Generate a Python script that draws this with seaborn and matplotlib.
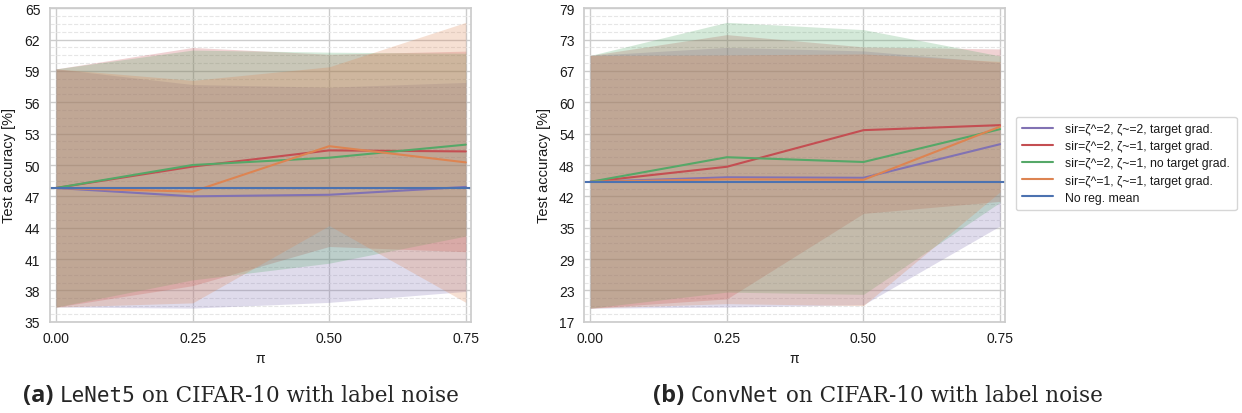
import numpy as np
import pandas as pd
import matplotlib
matplotlib.use("Agg")
import matplotlib.pyplot as plt
import seaborn as sns
from matplotlib.ticker import AutoMinorLocator, FixedLocator
from matplotlib.offsetbox import TextArea, HPacker, AnchoredOffsetbox
from matplotlib.lines import Line2D

# ---------------- data ----------------
pi_vals = [0.00, 0.25, 0.50, 0.75]
series_names = [
    "sir=ζ^=2, ζ~=2, target grad.",
    "sir=ζ^=2, ζ~=1, target grad.",
    "sir=ζ^=2, ζ~=1, no target grad.",
    "sir=ζ^=1, ζ~=1, target grad.",
]
noreg_name = "No reg. mean"

# LeNet5 (a)
lenet_mean_s1 = [47.8, 47.0, 47.15, 47.9]
lenet_std_s1 = [11.4, 10.7, 10.3, 10.0]
lenet_mean_s2 = [47.8, 49.85, 51.4, 51.3]
lenet_std_s2 = [11.4, 11.4, 9.2, 9.6]
lenet_mean_s3 = [47.8, 50.0, 50.7, 51.95]
lenet_std_s3 = [11.4, 11.0, 10.1, 8.75]
lenet_mean_s4 = [47.8, 47.45, 51.8, 50.25]
lenet_std_s4 = [11.4, 10.65, 7.6, 13.4]
lenet_noreg = 47.8
lenet_ylim = (35.0, 65.0)
lenet_yticklabels = ["35", "38", "41", "44", "47", "50", "53", "56", "59", "62", "65"]

# ConvNet (b)
conv_mean_s1 = [44.5, 45.4, 45.3, 52.0]
conv_std_s1 = [25.2, 25.9, 25.3, 16.3]
conv_mean_s2 = [44.5, 47.5, 54.8, 55.8]
conv_std_s2 = [25.2, 26.35, 16.6, 15.2]
conv_mean_s3 = [44.5, 49.4, 48.45, 55.0]
conv_std_s3 = [25.2, 26.9, 26.4, 14.6]
conv_mean_s4 = [44.5, 45.0, 44.9, 55.5]
conv_std_s4 = [25.2, 24.8, 25.1, 13.0]
conv_noreg = 44.5
conv_ylim = (16.6, 79.1)
conv_yticklabels = ["17", "23", "29", "35", "42", "48", "54", "60", "67", "73", "79"]

xticklabels = ["0.00", "0.25", "0.50", "0.75"]
xlabel = "π"
ylabel = "Test accuracy [%]"
caption_a = ("(a) ", "LeNet5", " on CIFAR-10 with label noise")
caption_b = ("(b) ", "ConvNet", " on CIFAR-10 with label noise")

# ---------------- style ----------------
sns.set_theme(style="whitegrid")
plt.rcParams["font.family"] = ["Liberation Sans", "DejaVu Sans"]
deep = sns.color_palette("deep")
colors = [deep[4], deep[3], deep[2], deep[1]]
noreg_color = deep[0]

fig = plt.figure(figsize=(12.42, 4.14), dpi=100)
ax_a = fig.add_axes([50 / 1242, 1 - 322.7 / 414, 420.7 / 1242, 313.4 / 414])
ax_b = fig.add_axes([584.3 / 1242, 1 - 322.7 / 414, 420.7 / 1242, 313.4 / 414])

FS = 10


def draw(ax, means, stds, noreg, ylim, yticklabels):
    frames = []
    for name, m in zip(series_names, means):
        frames.append(pd.DataFrame({"pi": pi_vals, "acc": m, "series": name}))
    df = pd.concat(frames, ignore_index=True)
    for name, m, s, c in zip(series_names, means, stds, colors):
        m = np.asarray(m)
        s = np.asarray(s)
        ax.fill_between(pi_vals, m - s, m + s, color=c, alpha=0.25, linewidth=0)
    sns.lineplot(data=df, x="pi", y="acc", hue="series", hue_order=series_names,
                 palette=colors, ax=ax, linewidth=1.5, legend=False)
    ax.axhline(noreg, color=noreg_color, linewidth=1.5)
    ax.set_xlim(-0.011, 0.759)
    ax.set_ylim(*ylim)
    ax.set_xticks(pi_vals)
    ax.set_xticklabels(xticklabels, fontsize=FS)
    yt = np.linspace(ylim[0], ylim[1], len(yticklabels))
    ax.yaxis.set_major_locator(FixedLocator(yt))
    ax.set_yticklabels(yticklabels, fontsize=FS)
    ax.yaxis.set_minor_locator(AutoMinorLocator(4))
    ax.grid(which="major", color="0.8", linewidth=1.0)
    ax.grid(which="minor", axis="y", color="0.9", linestyle="--", linewidth=0.8)
    ax.grid(which="minor", axis="x", visible=False)
    ax.tick_params(axis="both", which="major", pad=7, length=0, labelcolor="0.1")
    ax.tick_params(axis="both", which="minor", length=0)
    ax.set_xlabel(xlabel, fontsize=FS, color="0.1")
    ax.set_ylabel(ylabel, fontsize=FS + 0.5, labelpad=6, color="0.1")
    for sp in ax.spines.values():
        sp.set_color("0.8")
        sp.set_linewidth(1.25)


draw(ax_a, [lenet_mean_s1, lenet_mean_s2, lenet_mean_s3, lenet_mean_s4],
     [lenet_std_s1, lenet_std_s2, lenet_std_s3, lenet_std_s4],
     lenet_noreg, lenet_ylim, lenet_yticklabels)
draw(ax_b, [conv_mean_s1, conv_mean_s2, conv_mean_s3, conv_mean_s4],
     [conv_std_s1, conv_std_s2, conv_std_s3, conv_std_s4],
     conv_noreg, conv_ylim, conv_yticklabels)

# legend
handles = [Line2D([], [], color=c, linewidth=1.5) for c in colors] + \
          [Line2D([], [], color=noreg_color, linewidth=1.5)]
labels = series_names + [noreg_name]
leg = fig.legend(handles, labels, loc="center left", bbox_to_anchor=(1012 / 1242, 1 - 164.5 / 414),
                 fontsize=8.8, frameon=True, edgecolor="0.8", handlelength=2.5,
                 borderpad=0.55, labelspacing=0.42, handletextpad=1.0, borderaxespad=0.3)
for t in leg.get_texts():
    t.set_color("0.1")


def caption(parts, xc):
    t1 = TextArea(parts[0], textprops=dict(fontsize=17, fontweight="bold", family="Open Sans"))
    t2 = TextArea(parts[1], textprops=dict(fontsize=15, family="DejaVu Sans Mono"))
    t3 = TextArea(parts[2], textprops=dict(fontsize=15.5, family="DejaVu Serif"))
    box = HPacker(children=[t1, t2, t3], align="baseline", pad=0, sep=0)
    ab = AnchoredOffsetbox(loc="center", child=box, frameon=False,
                           bbox_to_anchor=(xc, 1 - 396 / 414),
                           bbox_transform=fig.transFigure, borderpad=0, pad=0)
    fig.add_artist(ab)


caption(caption_a, 241 / 1242)
caption(caption_b, 878 / 1242)

fig.savefig("out.png", dpi=100)
